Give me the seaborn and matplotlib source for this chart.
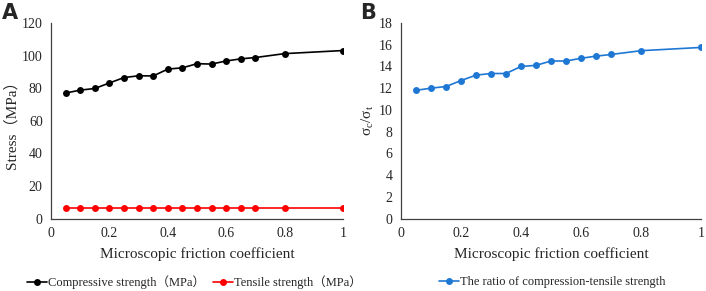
import pandas as pd
import matplotlib.pyplot as plt
import seaborn as sns

# friction coefficient values and measured strengths
friction = [0.05, 0.1, 0.15, 0.2, 0.25, 0.3, 0.35, 0.4, 0.45, 0.5, 0.55, 0.6, 0.65, 0.7, 0.8, 1.0]
compressive = [77.0, 78.8, 79.8, 83.2, 86.5, 87.6, 87.5, 91.7, 92.5, 95.0, 94.8, 96.7, 98.0, 98.8, 101.2, 103.1]
tensile = [6.5] * 16
ratio = [11.8, 12.0, 12.15, 12.7, 13.2, 13.35, 13.35, 14.0, 14.1, 14.5, 14.5, 14.75, 14.95, 15.1, 15.45, 15.75]
xticks = [0, 0.2, 0.4, 0.6, 0.8, 1]
xtick_labels = ['0', '0.2', '0.4', '0.6', '0.8', '1']

df = pd.DataFrame({'mu': friction, 'comp': compressive, 'tens': tensile, 'ratio': ratio})

sns.set_style('white')
serif = ['Liberation Serif', 'Noto Sans CJK SC']
plt.rcParams['font.family'] = serif

fig = plt.figure(figsize=(7.06, 2.91), dpi=100)
axA = fig.add_axes([51 / 706, 1 - 218.5 / 291, 292 / 706, 195.5 / 291])
axB = fig.add_axes([401 / 706, 1 - 218.5 / 291, 300 / 706, 195.5 / 291])

sns.lineplot(data=df, x='mu', y='comp', ax=axA, color='black', marker='o',
             markersize=5, markeredgewidth=0, linewidth=1.2,
             label='Compressive strength（MPa）')
sns.lineplot(data=df, x='mu', y='tens', ax=axA, color='#ff0000', marker='o',
             markersize=5, markeredgewidth=0, linewidth=1.2,
             label='Tensile strength（MPa）')
sns.lineplot(data=df, x='mu', y='ratio', ax=axB, color='#1f77d4', marker='o',
             markersize=5, markeredgewidth=0, linewidth=1.2,
             label='The ratio of compression-tensile strength')

axA.set_ylim(0, 120)
axA.set_yticks(range(0, 121, 20))
axB.set_ylim(0, 18)
axB.set_yticks(range(0, 19, 2))

for ax in (axA, axB):
    ax.set_xlim(0, 1)
    ax.set_xticks(xticks)
    ax.set_xticklabels(xtick_labels)
    ax.set_xlabel('Microscopic friction coefficient', fontsize=11, labelpad=5, family=serif)
    ax.tick_params(labelsize=10, length=0, pad=6, labelfontfamily='Liberation Serif')
    for s in ('top', 'right'):
        ax.spines[s].set_visible(False)
    for s in ('left', 'bottom'):
        ax.spines[s].set_color('#404040')
        ax.spines[s].set_linewidth(0.9)

axA.set_ylabel('Stress（MPa）', fontsize=11, labelpad=2, family=serif)
axB.set_ylabel(r'$\mathregular{\sigma_c/\sigma_t}$', fontsize=11, labelpad=2)

axA.legend(loc='center left', bbox_to_anchor=(-0.12, -0.325), ncol=2, frameon=False,
           handlelength=1.6, handletextpad=0.1, columnspacing=0.6,
           prop={'family': serif, 'size': 9})
axB.legend(loc='center left', bbox_to_anchor=(0.09, -0.325), ncol=1, frameon=False,
           handlelength=1.6, handletextpad=0.1,
           prop={'family': serif, 'size': 9})

fig.text(2 / 706, 1 - 13 / 291, 'A', fontsize=15, fontweight='bold', family='DejaVu Sans', va='center')
fig.text(360 / 706, 1 - 13 / 291, 'B', fontsize=15, fontweight='bold', family='DejaVu Sans', va='center')

fig.savefig('out.png', dpi=100)
